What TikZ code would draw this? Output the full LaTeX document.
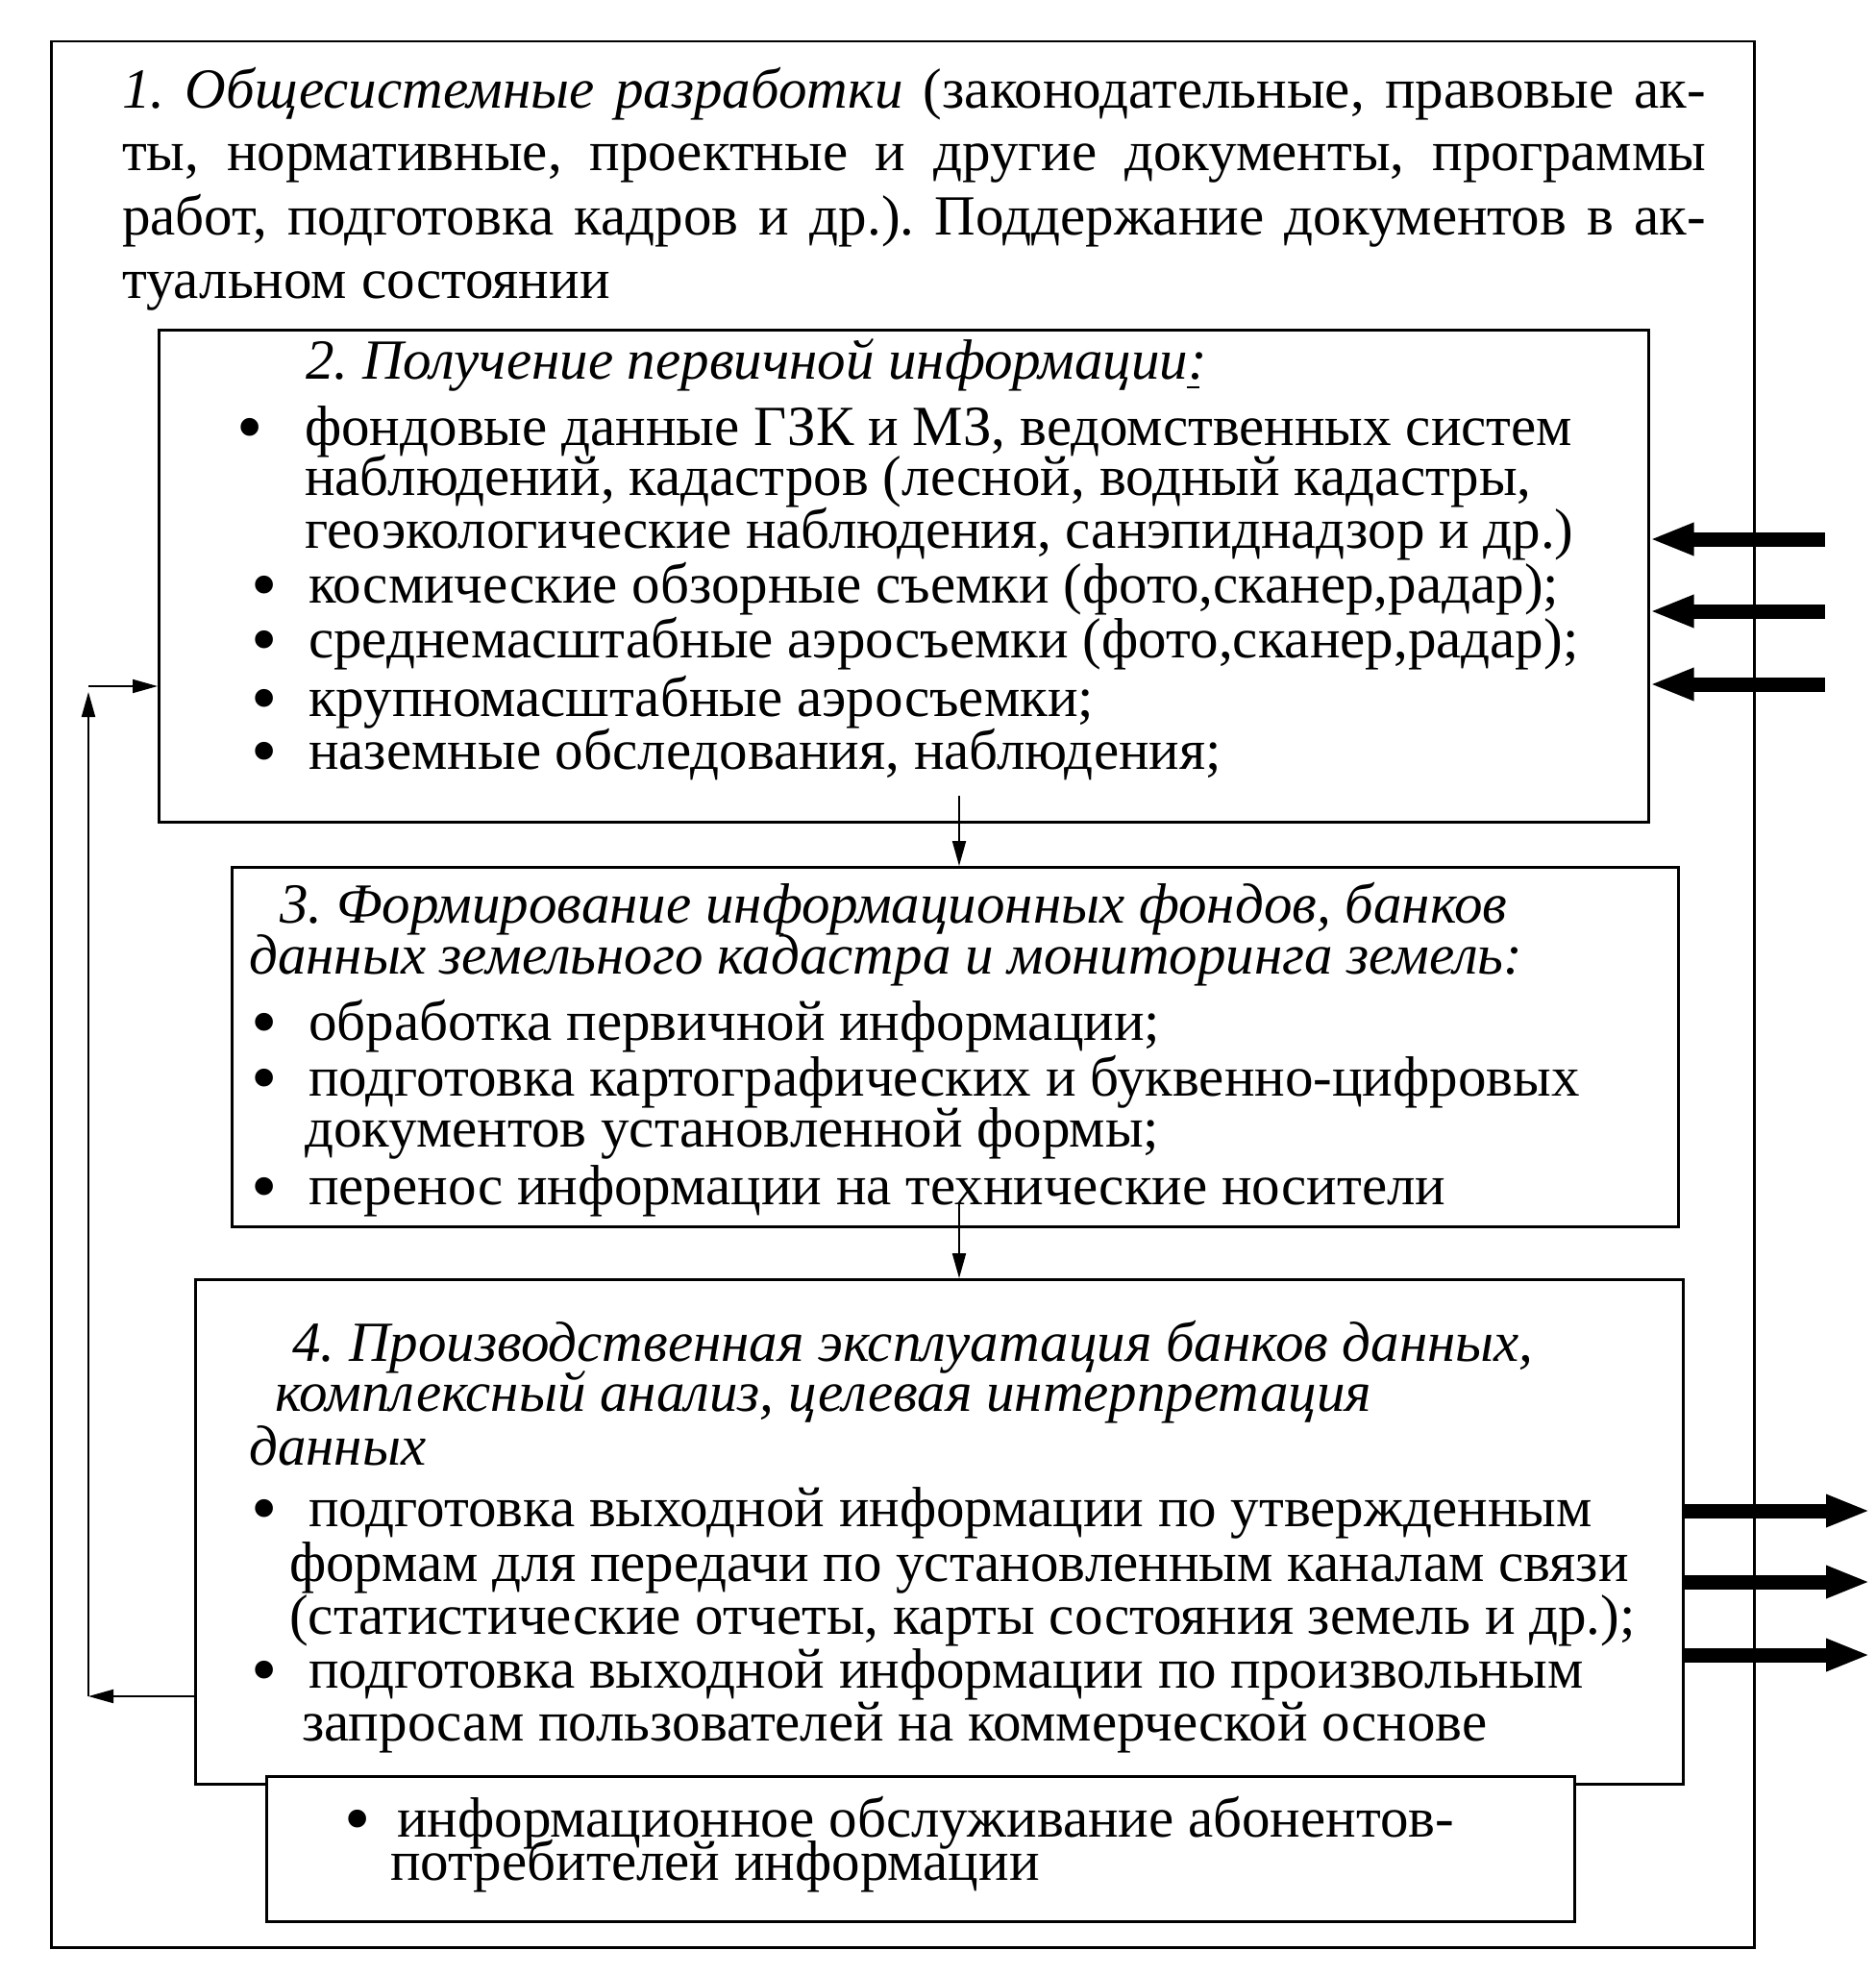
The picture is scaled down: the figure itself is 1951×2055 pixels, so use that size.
\documentclass[tikz,border=0pt]{standalone}
\usepackage{fontspec}
\setmainfont{Liberation Serif}
\usetikzlibrary{arrows.meta}
\frenchspacing
\tikzset{
  frame/.style={draw, line width=2.5pt, fill=white, inner sep=0pt, anchor=north west},
  txt/.style={anchor=base west, inner sep=0pt, text height=38pt, text depth=11pt, font=\fontsize{59}{59}\selectfont},
  ttl/.style={txt, font=\fontsize{59}{59}\selectfont\itshape},
  bul/.style={anchor=base west, inner sep=0pt, text height=36pt, text depth=0pt, font=\fontsize{78}{78}\selectfont},
  thinarrow/.style={line width=2pt, -{Triangle[width=14pt,length=26pt]}},
  fatarrow/.style={line width=15pt, -{Triangle[width=31pt,length=46pt]}}
}
\begin{document}
\begin{tikzpicture}[x=1pt,y=-1pt]
\useasboundingbox (0,0) rectangle (1951,2055);
\fill[white] (0,0) rectangle (1951,2055);
% boxes
\node[frame, minimum width=1772pt, minimum height=1983pt] (b1) at (52,42) {};
\node[frame, minimum width=1550pt, minimum height=512pt] (b2) at (164,342) {};
\node[frame, minimum width=1505pt, minimum height=374pt] (b3) at (240,901) {};
\node[frame, minimum width=1548pt, minimum height=525pt] (b4) at (202,1330) {};
\node[frame, minimum width=1361pt, minimum height=151pt] (b5) at (276,1847) {};
% box 1 text
\node[txt] (t1a) at (127,113) {\makebox[1648pt][s]{{\itshape 1. Общесистемные разработки} (законодательные, правовые ак-}};
\node[txt] (t1b) at (127,178) {\makebox[1648pt][s]{ты, нормативные, проектные и другие документы, программы}};
\node[txt] (t1c) at (127,244) {\makebox[1648pt][s]{работ, подготовка кадров и др.). Поддержание документов в ак-}};
\node[txt] (t1d) at (127,310) {туальном состоянии};
% box 2 text
\node[ttl] (t2t) at (318,394) {2. Получение первичной информации\rlap{\kern-1pt\rule[-10pt]{13pt}{2.5pt}}:};
\node[bul] (u2a) at (246,470) {•};
\node[txt] (t2a) at (317,463) {фондовые данные ГЗК и МЗ, ведомственных систем};
\node[txt] (t2b) at (317,515) {наблюдений, кадастров (лесной, водный кадастры,};
\node[txt] (t2c) at (317,570) {геоэкологические наблюдения, санэпиднадзор и др.)};
\node[bul] (u2d) at (261,634) {•};
\node[txt] (t2d) at (321,627) {космические обзорные съемки (фото,сканер,радар);};
\node[bul] (u2e) at (261,691) {•};
\node[txt] (t2e) at (321,684) {среднемасштабные аэросъемки (фото,сканер,радар);};
\node[bul] (u2f) at (261,752) {•};
\node[txt] (t2f) at (321,745) {крупномасштабные аэросъемки;};
\node[bul] (u2g) at (261,807) {•};
\node[txt] (t2g) at (321,800) {наземные обследования, наблюдения;};
% box 3 text
\node[ttl] (t3t) at (291,960) {3. Формирование информационных фондов, банков};
\node[ttl] (t3u) at (259,1013) {данных земельного кадастра и мониторинга земель:};
\node[bul] (u3a) at (261,1089) {•};
\node[txt] (t3a) at (321,1082) {обработка первичной информации;};
\node[bul] (u3b) at (261,1147) {•};
\node[txt] (t3b) at (321,1140) {подготовка картографических и буквенно-цифровых};
\node[txt] (t3c) at (317,1193) {документов установленной формы;};
\node[bul] (u3d) at (261,1260) {•};
\node[txt] (t3d) at (321,1253) {перенос информации на технические носители};
% box 4 text
\node[ttl] (t4t) at (304,1416) {4. Производственная эксплуатация банков данных,};
\node[ttl] (t4u) at (286,1468) {комплексный анализ, целевая интерпретация};
\node[ttl] (t4v) at (259,1524) {данных};
\node[bul] (u4a) at (261,1595) {•};
\node[txt] (t4a) at (321,1588) {подготовка выходной информации по утвержденным};
\node[txt] (t4b) at (301,1645) {формам для передачи по установленным каналам связи};
\node[txt] (t4c) at (301,1700) {(статистические отчеты, карты состояния земель и др.);};
\node[bul] (u4d) at (261,1763) {•};
\node[txt] (t4d) at (321,1756) {подготовка выходной информации по произвольным};
\node[txt] (t4e) at (314,1811) {запросам пользователей на коммерческой основе};
% box 5 text
\node[bul] (u5a) at (358,1918) {•};
\node[txt] (t5a) at (413,1911) {информационное обслуживание абонентов-};
\node[txt, text height=32pt] (t5b) at (406,1956) {потребителей информации};
% connectors
\coordinate (d1) at (998,828);
\coordinate (d2) at (998,1252);
\draw[thinarrow] (d1) -- (d1 |- b3.north);
\draw[thinarrow] (d2) -- (d2 |- b4.north);
\coordinate (lp1) at (92,1765);
\coordinate (lp2) at (92,720);
\coordinate (lp3) at (92,714);
\draw[thinarrow] (lp1 -| b4.west) -- (lp1);
\draw[thinarrow] (lp1) -- (lp2);
\draw[thinarrow] (lp3) -- (lp3 -| b2.west);
\coordinate (in1) at (1899,561);
\coordinate (in2) at (1899,636);
\coordinate (in3) at (1899,712);
\draw[fatarrow] (in1) -- (in1 -| b2.east);
\draw[fatarrow] (in2) -- (in2 -| b2.east);
\draw[fatarrow] (in3) -- (in3 -| b2.east);
\coordinate (o1) at (1946,1572);
\coordinate (o2) at (1946,1646);
\coordinate (o3) at (1946,1722);
\draw[fatarrow] (o1 -| b4.east) -- (o1);
\draw[fatarrow] (o2 -| b4.east) -- (o2);
\draw[fatarrow] (o3 -| b4.east) -- (o3);
\end{tikzpicture}
\end{document}
